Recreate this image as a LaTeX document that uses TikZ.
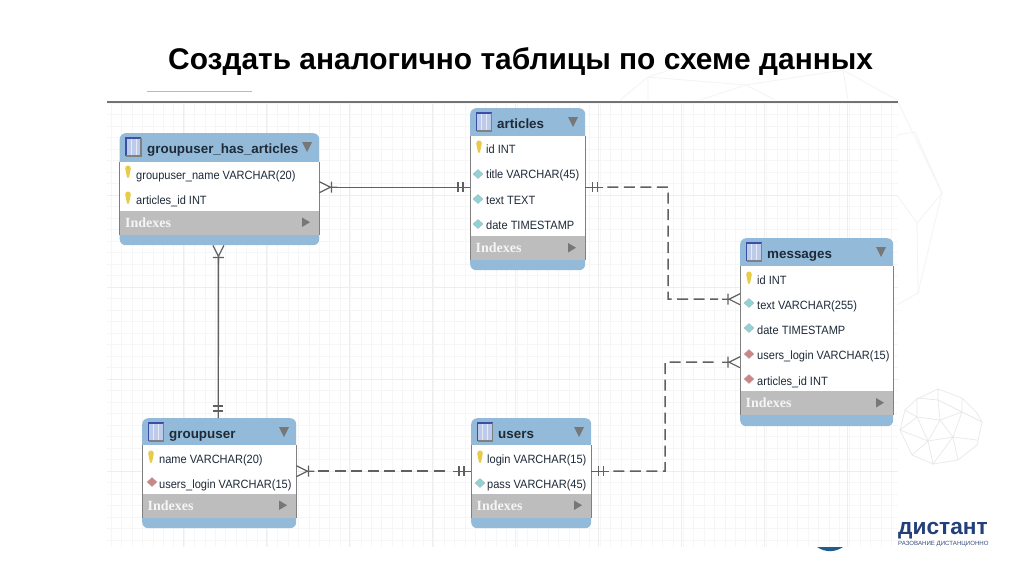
\documentclass[tikz,border=0pt]{standalone}
\usepackage{fontspec}
\setmainfont{Liberation Sans}
\newfontfamily\serifbold{Liberation Serif}
\newfontfamily\rowfont[FakeStretch=.92]{Liberation Sans}
\usetikzlibrary{calc}
\definecolor{hdrblue}{HTML}{93BBD9}
\definecolor{idxgrey}{HTML}{BDBDBD}
\definecolor{tblink}{HTML}{1E2A38}
\definecolor{conngrey}{HTML}{606060}
\definecolor{gridminor}{HTML}{F6F6F6}
\definecolor{gridmajor}{HTML}{EEEEEE}
\definecolor{spherec}{HTML}{F3F3F3}
\definecolor{smallsph}{HTML}{E8E8E8}
\definecolor{navy}{HTML}{23407A}
\definecolor{keyc}{HTML}{E9CB4A}
\definecolor{cyanc}{HTML}{8FD3D6}
\definecolor{redc}{HTML}{CF8585}
\definecolor{iconc}{HTML}{BCCBEA}
\definecolor{iconb}{HTML}{3A50A8}
\definecolor{trig}{HTML}{777777}
\tikzset{
  tablebox/.style={rounded corners=6pt,fill=hdrblue,inner sep=0pt,anchor=north west},
  titletext/.style={font=\bfseries\fontsize{13.4}{14}\selectfont,text=tblink,anchor=base west,inner sep=0pt},
  rowtext/.style={font=\rowfont\fontsize{12}{13}\selectfont,text=tblink,anchor=base west,inner sep=0pt},
  idxtext/.style={font=\serifbold\bfseries\fontsize{14}{14}\selectfont,text=white!92!gray,anchor=base west,inner sep=0pt},
  solidconn/.style={draw=conngrey,line width=1.4pt},
  dashconn/.style={draw=conngrey,line width=1.5pt,dash pattern=on 11pt off 5.5pt},
  sym/.style={draw=conngrey,line width=1.2pt},
  sphere/.style={draw=spherec,line width=.8pt},
  smallsphere/.style={draw=smallsph,line width=.7pt},
}
\newcommand{\keyicon}[2]{\fill[keyc] (#1-2.8,#2-3.5) .. controls (#1-2.8,#2-7.5) and (#1+2.8,#2-7.5) .. (#1+2.8,#2-3.5) .. controls (#1+2.8,#2-1) and (#1+1.2,#2+2) .. (#1+1,#2+5.5) -- (#1-1,#2+5.5) .. controls (#1-1.2,#2+2) and (#1-2.8,#2-1) .. (#1-2.8,#2-3.5) -- cycle;}
\newcommand{\diaicon}[3]{\fill[#3,draw=gray!60,line width=.3pt] (#1-5,#2) -- (#1,#2-4.5) -- (#1+5,#2) -- (#1,#2+4.5) -- cycle;}
\newcommand{\cyanicon}[2]{\diaicon{#1}{#2}{cyanc}}
\newcommand{\redicon}[2]{\diaicon{#1}{#2}{redc}}
\newcommand{\tableframe}[7]{%
  \node[tablebox,minimum width=#4pt,minimum height=#5pt] (#1) at (#2,#3) {};
  \fill[white] (#2,#6) rectangle (#2+#4,#7);
  \fill[idxgrey] (#2,#7) rectangle (#2+#4,#7+24);
  \draw[gray,line width=.5pt] (#2,#6) -- (#2,#7+24) (#2+#4,#6) -- (#2+#4,#7+24);
  \fill[iconc] (#2+6.5,#3+5) rectangle (#2+21.5,#3+23);
  \draw[white!60!iconc,line width=.3pt] (#2+11.5,#3+6) -- (#2+11.5,#3+22) (#2+16.5,#3+6) -- (#2+16.5,#3+22);
  \draw[iconb,line width=1.1pt] (#2+6.5,#3+23) -- (#2+6.5,#3+5) -- (#2+21.5,#3+5);
  \draw[gray,line width=1.1pt] (#2+21.5,#3+5) -- (#2+21.5,#3+23) -- (#2+6.5,#3+23);
  \fill[trig] (#2+#4-17,#3+9) -- (#2+#4-7,#3+9) -- (#2+#4-12,#3+19) -- cycle;
  \fill[trig] (#2+#4-17,#7+7) -- (#2+#4-17,#7+16.5) -- (#2+#4-9,#7+11.7) -- cycle;
  \node[idxtext] at (#2+5.5,#7+16.5) {Indexes};
}
\newcommand{\crowfoot}[2]{%
  \draw[sym,shift={(#1)},rotate=#2] (0,5.5) -- (11,0) -- (0,-5.5) (12,-5.5) -- (12,5.5) (11,0) -- (18,0);}
\newcommand{\twobars}[2]{%
  \draw[sym,shift={(#1)},rotate=#2] (7,-5) -- (7,5) (12,-5) -- (12,5) (0,0) -- (18,0);}
\begin{document}
\begin{tikzpicture}[x=1pt,y=-1pt]
\useasboundingbox (0,0) rectangle (1024,574);
\fill[white] (0,0) rectangle (1024,574);
% big faint sphere
\draw[sphere] (648,77) -- (746,85) -- (843,70) -- (897,100) -- (942,193) -- (917,223) -- (918,293) -- (897,305);
\draw[sphere] (648,77) -- (620,100) (648,77) -- (648,100) (746,85) -- (775,100) (746,85) -- (700,100) (648,77) -- (700,60) (843,70) -- (848,100) (897,135) -- (915,132) -- (942,193) (897,195) -- (917,223) (942,193) -- (933,230) -- (918,293);
% small sphere
\draw[smallsphere] (917,399) -- (938,389) -- (962,398) -- (977,413) -- (982,422) -- (977,445) -- (958,460) -- (933,464) -- (912,455) -- (900,430) -- (905,410) -- cycle;
\draw[smallsphere] (917,398) -- (938,400) -- (962,412) -- (940,420) -- (917,417) -- (900,430) (917,398) -- (917,417) -- (928,441) -- (900,430)
 (938,389) -- (938,400) -- (940,420) -- (928,441) -- (953,437) -- (940,420) (962,412) -- (953,437) -- (977,440) (962,412) -- (982,422) (962,398) -- (962,412) (928,441) -- (933,464) -- (953,437) -- (958,460) (917,417) -- (905,410) (928,441) -- (912,455);
% grid
\foreach \g in {0,...,75} {\draw[gridminor,line width=.7pt] ({111.4+\g*10.4},103) -- ({111.4+\g*10.4},547);}
\foreach \g in {0,...,38} {\draw[gridminor,line width=.7pt] (107,{103+\g*11.5}) -- (898,{103+\g*11.5});}
\foreach \g in {1,...,9} {\draw[gridmajor,line width=1pt] ({100+\g*83},103) -- ({100+\g*83},547);}
\foreach \g in {1,...,4} {\draw[gridmajor,line width=1pt] (107,{103+\g*92}) -- (898,{103+\g*92});}
% rules
\draw[gray!90!black,line width=1.1pt] (107,102) -- (898,102);
\draw[gray!55!white,line width=.8pt] (147,91) -- (252,91);
% heading
\node[anchor=base west,inner sep=0pt,font=\bfseries\fontsize{29.9}{30}\selectfont,text=black] (heading) at (168,69) {Создать аналогично таблицы по схеме данных};
% tables
\tableframe{gha}{119.5}{133}{199.5}{112}{161.5}{210.5}
\tableframe{art}{470}{108}{115}{162}{136}{236}
\tableframe{msg}{740}{238}{153}{188}{266}{391}
\tableframe{grp}{142}{418}{154}{110}{445}{493.5}
\tableframe{usr}{471}{418}{120}{110}{445}{493.5}
\node[titletext] (gha-t) at (147,153.5) {groupuser\_has\_articles};
\node[titletext] (art-t) at (497,128) {articles};
\node[titletext] (msg-t) at (767,258.5) {messages};
\node[titletext] (grp-t) at (169,438) {groupuser};
\node[titletext] (usr-t) at (498,438) {users};
% rows
\keyicon{128}{172}\node[rowtext] (gha-1) at (136,179) {groupuser\_name VARCHAR(20)};
\keyicon{128}{198}\node[rowtext] (gha-2) at (136,204) {articles\_id INT};
\keyicon{479}{147}\node[rowtext] (art-1) at (486,153) {id INT};
\cyanicon{478}{174}\node[rowtext] (art-2) at (486,178.5) {title VARCHAR(45)};
\cyanicon{478}{199}\node[rowtext] (art-3) at (486,204) {text TEXT};
\cyanicon{478}{224}\node[rowtext] (art-4) at (486,229.5) {date TIMESTAMP};
\keyicon{749}{278}\node[rowtext] (msg-1) at (757,284) {id INT};
\cyanicon{749}{303}\node[rowtext] (msg-2) at (757,309) {text VARCHAR(255)};
\cyanicon{749}{328}\node[rowtext] (msg-3) at (757,334) {date TIMESTAMP};
\redicon{749}{354}\node[rowtext] (msg-4) at (757,359.5) {users\_login VARCHAR(15)};
\redicon{749}{379}\node[rowtext] (msg-5) at (757,385) {articles\_id INT};
\keyicon{151}{457}\node[rowtext] (grp-1) at (159,463) {name VARCHAR(20)};
\redicon{152}{482}\node[rowtext] (grp-2) at (159,488) {users\_login VARCHAR(15)};
\keyicon{480}{457}\node[rowtext] (usr-1) at (487,463) {login VARCHAR(15)};
\cyanicon{480}{483}\node[rowtext] (usr-2) at (487,488) {pass VARCHAR(45)};
% connector ends
\coordinate (a1) at ([yshift=2pt]gha.east);
\coordinate (a2) at ([yshift=2pt]art.west);
\coordinate (b1) at ([xshift=-1pt]gha.south);
\coordinate (b2) at ([xshift=-1pt]grp.north);
\coordinate (c1) at ([yshift=2pt]art.east);
\coordinate (c2) at ([yshift=33pt]msg.west);
\coordinate (d1) at ([yshift=2pt]usr.east);
\coordinate (d2) at ([yshift=-30pt]msg.west);
\coordinate (e1) at ([yshift=2pt]grp.east);
\coordinate (e2) at ([yshift=2pt]usr.west);
% connectors
\draw[solidconn] ([xshift=11pt]a1) -- (a2);
\draw[solidconn] ([yshift=-11pt]b1) -- (b2);
\draw[dashconn] ([xshift=22pt]c1) -| (668,299) -- ([xshift=-22pt]c2);
\draw[dashconn] ([xshift=22pt]d1) -- (665,471) |- ([xshift=-22pt]d2);
\draw[dashconn] ([xshift=22pt]e1) -- ([xshift=-22pt]e2);
\crowfoot{a1}{0}
\twobars{a2}{180}
\crowfoot{b1}{-90}
\twobars{b2}{90}
\twobars{c1}{0}
\crowfoot{c2}{180}
\twobars{d1}{0}
\crowfoot{d2}{180}
\crowfoot{e1}{0}
\twobars{e2}{180}
% logo
\fill[navy!85!cyan] (817,547) .. controls (825,552.5) and (835,552.5) .. (843,547) -- cycle;
\node[anchor=base west,inner sep=0pt,font=\bfseries\fontsize{22.7}{23}\selectfont,text=navy] (logo) at (898,534) {дистант};
\node[anchor=base west,inner sep=0pt,font=\fontsize{6.1}{6.5}\selectfont,text=navy!80!gray] (logosub) at (898,545.5) {РАЗОВАНИЕ ДИСТАНЦИОННО};
\end{tikzpicture}
\end{document}
